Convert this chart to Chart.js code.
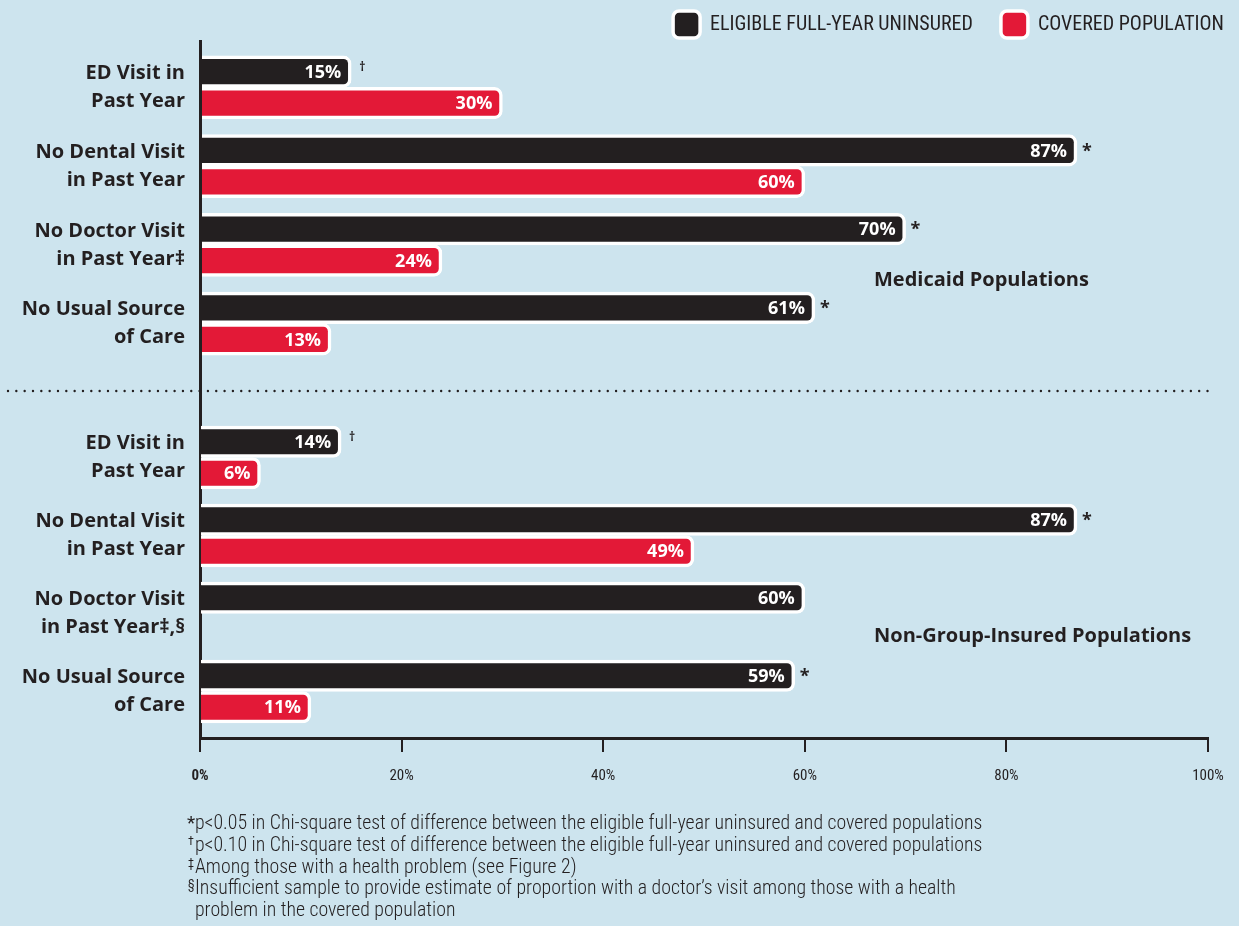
<!DOCTYPE html>
<html><head><meta charset="utf-8">
<script src="https://cdn.jsdelivr.net/npm/chart.js@4.4.1/dist/chart.umd.min.js"></script>
<style>
html,body{margin:0;padding:0;background:#cde4ee;width:1239px;height:926px;overflow:hidden;}
#wrap{position:relative;width:1239px;height:926px;}
canvas{position:absolute;left:0;top:0;}
#notes{position:absolute;left:188px;top:812px;color:#231f20;line-height:21.75px;white-space:nowrap;font-family:"Roboto Condensed",Roboto,sans-serif;font-weight:300;font-size:19.8px;}
.fn{position:relative;padding-left:7px;}
.mk{position:absolute;left:0;top:-3px;font-size:12px;font-weight:400;}
.mk.star{font-size:19px;top:0px;left:-1px;}
</style></head><body>
<div id="wrap">
<canvas id="c1" width="1239" height="926"></canvas>
<canvas id="c2" width="1239" height="926"></canvas>
<div id="notes"></div>
</div>
<script>
// ---------- data ----------
const seriesNames = ['ELIGIBLE FULL-YEAR UNINSURED', 'COVERED POPULATION'];
const groupTitles = ['Medicaid Populations', 'Non-Group-Insured Populations'];
const medicaidCategories = [['ED Visit in', 'Past Year'], ['No Dental Visit', 'in Past Year'], ['No Doctor Visit', 'in Past Year‡'], ['No Usual Source', 'of Care']];
const nonGroupCategories = [['ED Visit in', 'Past Year'], ['No Dental Visit', 'in Past Year'], ['No Doctor Visit', 'in Past Year‡,§'], ['No Usual Source', 'of Care']];
const medicaidUninsured = [15, 87, 70, 61];
const medicaidCovered = [30, 60, 24, 13];
const medicaidMarks = ['†', '*', '*', '*'];
const nonGroupUninsured = [14, 87, 60, 59];
const nonGroupCovered = [6, 49, null, 11];
const nonGroupMarks = ['†', '*', '', '*'];
const xTickValues = [0, 20, 40, 60, 80, 100];
const footnoteMarks = ['*', '†', '‡', '§', ''];
const footnoteTexts = [
  'p<0.05 in Chi-square test of difference between the eligible full-year uninsured and covered populations',
  'p<0.10 in Chi-square test of difference between the eligible full-year uninsured and covered populations',
  'Among those with a health problem (see Figure 2)',
  'Insufficient sample to provide estimate of proportion with a doctor’s visit among those with a health',
  'problem in the covered population'
];

// ---------- styles ----------
const NARROW = '"Roboto Condensed", Roboto, sans-serif';
const BOLD = '"Open Sans", sans-serif';
const INK = '#231f20';
const BLACK = '#231f20';
const RED = '#e31937';

document.getElementById('notes').innerHTML = footnoteTexts.map((t, i) => {
  const m = footnoteMarks[i];
  const mk = m ? '<span class="mk' + (m === '*' ? ' star' : '') + '">' + m + '</span>' : '';
  return '<div class="fn">' + mk + t.replace(/</g, '&lt;') + '</div>';
}).join('');

// ---------- plugins ----------
const barText = {
  id: 'barText',
  afterDatasetsDraw(chart, args, opts) {
    const ctx = chart.ctx;
    ctx.save();
    chart.data.datasets.forEach((ds, di) => {
      chart.getDatasetMeta(di).data.forEach((bar, i) => {
        const v = ds.data[i];
        if (v == null) return;
        ctx.font = '700 18px ' + BOLD;
        ctx.fillStyle = '#ffffff';
        ctx.textAlign = 'right';
        ctx.textBaseline = 'middle';
        ctx.fillText(v + '%', bar.x - 10, bar.y + 1);
      });
    });
    chart.getDatasetMeta(0).data.forEach((bar, i) => {
      const m = opts.marks[i];
      if (!m) return;
      ctx.fillStyle = INK;
      ctx.textAlign = 'left';
      ctx.textBaseline = 'middle';
      if (m === '*') { ctx.font = '700 18px ' + BOLD; ctx.fillText(m, bar.x + 5, bar.y + 1); }
      else { ctx.font = '700 12px ' + BOLD; ctx.fillText(m, bar.x + 8, bar.y - 4); }
    });
    ctx.font = '700 20px ' + BOLD;
    ctx.fillStyle = INK;
    ctx.textAlign = 'left';
    ctx.textBaseline = 'middle';
    ctx.fillText(opts.title, 874, opts.titleY);
    ctx.restore();
  }
};
const frame = {
  id: 'frame',
  afterDraw(chart) {
    const ctx = chart.ctx, a = chart.chartArea;
    ctx.save();
    ctx.strokeStyle = INK;
    ctx.lineWidth = 3;
    ctx.beginPath(); ctx.moveTo(200.5, a.top - 8); ctx.lineTo(200.5, a.bottom + 56); ctx.stroke();
    ctx.lineWidth = 2.4; ctx.lineCap = 'round'; ctx.setLineDash([0, 8.33]);
    ctx.beginPath(); ctx.moveTo(8, a.bottom + 28); ctx.lineTo(1210, a.bottom + 28); ctx.stroke();
    ctx.restore();
  }
};

function datasets(u, c) {
  const common = {borderColor: '#ffffff', borderWidth: 3.5, borderSkipped: 'start', borderRadius: 8, barThickness: 31.5};
  return [
    Object.assign({label: seriesNames[0], data: u, backgroundColor: BLACK}, common),
    Object.assign({label: seriesNames[1], data: c, backgroundColor: RED}, common)
  ];
}
function yScale(extra) {
  return {
    type: 'category', offset: true,
    grid: {display: false, drawTicks: false},
    border: {display: true, color: INK, width: 3},
    ticks: {color: INK, padding: 15, font: {family: BOLD, weight: '700', size: 20, lineHeight: 1.4}},
    afterFit(s) { s.width = 200; },
    afterBuildTicks(s) { if (extra) s._valueRange = 4 + extra; }
  };
}
Chart.defaults.color = INK;
Chart.defaults.font.family = BOLD;

new Chart(document.getElementById('c1'), {
  type: 'bar',
  data: {labels: medicaidCategories, datasets: datasets(medicaidUninsured, medicaidCovered)},
  options: {
    indexAxis: 'y', responsive: false, animation: false, devicePixelRatio: 1,
    layout: {padding: {top: -17, right: -13, bottom: 563, left: 0}},
    scales: {
      x: {display: false, min: 0, max: 100},
      y: yScale(0),
      pad: {type: 'linear', position: 'right', display: true, grid: {display: false}, border: {display: false}, ticks: {display: false}, afterFit(s) { s.width = 44; }}
    },
    plugins: {
      tooltip: {enabled: false},
      legend: {
        position: 'top', align: 'end',
        labels: {boxWidth: 27, boxHeight: 27, padding: 28, useBorderRadius: true, borderRadius: 6, color: INK, font: {family: NARROW, size: 20}}
      },
      barText: {marks: medicaidMarks, title: groupTitles[0], titleY: 280}
    }
  },
  plugins: [barText, frame]
});

new Chart(document.getElementById('c2'), {
  type: 'bar',
  data: {labels: nonGroupCategories, datasets: datasets(nonGroupUninsured, nonGroupCovered)},
  options: {
    indexAxis: 'y', responsive: false, animation: false, devicePixelRatio: 1,
    layout: {padding: {top: 418.5, right: 31, bottom: 128, left: 0}},
    scales: {
      x: {
        min: 0, max: 100,
        afterBuildTicks(s) { s.ticks = xTickValues.map(v => ({value: v})); },
        grid: {display: true, drawOnChartArea: false, drawTicks: true, tickLength: 14, lineWidth: 2, color: INK},
        border: {display: true, color: INK, width: 3},
        ticks: {color: INK, padding: 15, maxRotation: 0, callback: v => v + '%',
          font: ctx => ({family: NARROW, size: 15, weight: ctx.index === 0 ? '700' : '400'})},
        afterFit(s) { s.height = 60; }
      },
      y: yScale(0.096)
    },
    plugins: {
      tooltip: {enabled: false},
      legend: {display: false},
      barText: {marks: nonGroupMarks, title: groupTitles[1], titleY: 636}
    }
  },
  plugins: [barText]
});
</script>
</body></html>
